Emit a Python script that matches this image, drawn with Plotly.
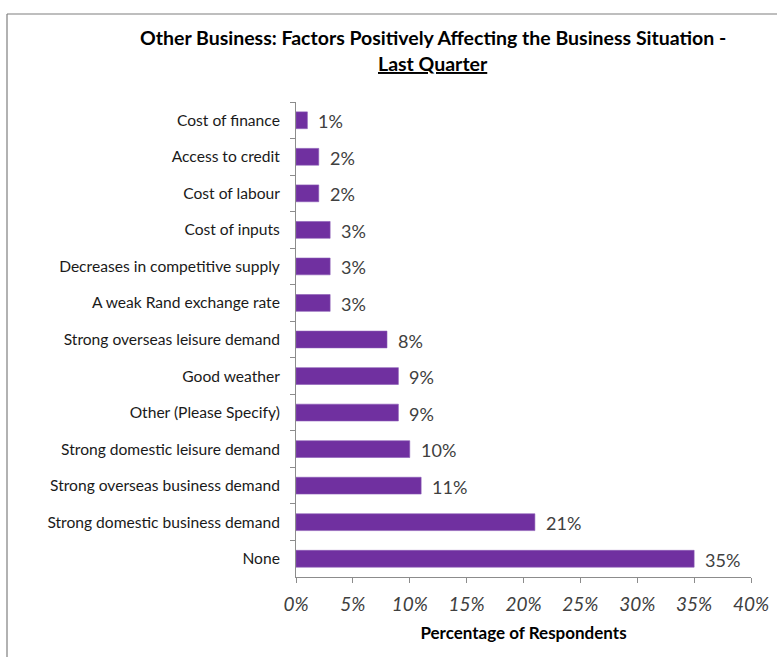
import plotly.graph_objects as go

# Survey results: factors positively affecting the business situation
factors = [
    "Cost of finance",
    "Access to credit",
    "Cost of labour",
    "Cost of inputs",
    "Decreases in competitive supply",
    "A weak Rand exchange rate",
    "Strong overseas leisure demand",
    "Good weather",
    "Other (Please Specify)",
    "Strong domestic leisure demand",
    "Strong overseas business demand",
    "Strong domestic business demand",
    "None",
]
share_pct = [1, 2, 2, 3, 3, 3, 8, 9, 9, 10, 11, 21, 35]
x_ticks = [0, 5, 10, 15, 20, 25, 30, 35, 40]
x_tick_labels = [f"{t}%" for t in x_ticks]

FONT = "Lato"
BAR = "#7030A0"
AXIS = "#8c8c8c"
TEXT = "#404040"

fig = go.Figure()
fig.add_trace(go.Bar(
    x=share_pct,
    y=factors,
    orientation="h",
    marker=dict(color=BAR, line=dict(color="#8a5ab5", width=0.6)),
    width=0.46,
    hoverinfo="x+y",
))

# value labels to the right of each bar
for f, v in zip(factors, share_pct):
    fig.add_annotation(
        x=v, y=f, text=f"{v}%", showarrow=False,
        xanchor="left", xshift=9, yshift=-1,
        font=dict(family=FONT, size=18, color=TEXT),
    )

W, H = 777, 657
L, R, T, B = 296, 26, 102, 80
pw, ph = W - L - R, H - T - B

def px_x(p):
    return (p - L) / pw

def px_y(p):
    return (H - B - p) / ph

# chart frame
fig.add_shape(type="line", xref="paper", yref="paper",
              x0=px_x(7), x1=px_x(780), y0=px_y(14), y1=px_y(14),
              line=dict(color="#7f7f7f", width=1.2))
fig.add_shape(type="line", xref="paper", yref="paper",
              x0=px_x(7), x1=px_x(7), y0=px_y(14), y1=px_y(660),
              line=dict(color="#7f7f7f", width=1.2))

# two-line heading
fig.add_annotation(
    xref="paper", yref="paper", x=px_x(433), y=px_y(38),
    xanchor="center", yanchor="middle", showarrow=False,
    text="<b>Other Business: Factors Positively Affecting the Business Situation -</b>",
    font=dict(family=FONT, size=19.5, color="#000000"),
)
fig.add_annotation(
    xref="paper", yref="paper", x=px_x(433), y=px_y(64),
    xanchor="center", yanchor="middle", showarrow=False,
    text="<b><u>Last Quarter</u></b>",
    font=dict(family=FONT, size=19.5, color="#000000"),
)

fig.update_layout(
    width=W, height=H,
    margin=dict(l=L, r=R, t=T, b=B, autoexpand=False),
    paper_bgcolor="white", plot_bgcolor="white",
    showlegend=False,
    xaxis=dict(
        range=[0, 40], tickvals=x_ticks, ticktext=x_tick_labels,
        showgrid=False, zeroline=False,
        showline=True, linecolor=AXIS, linewidth=1,
        ticks="outside", ticklen=5, tickcolor=AXIS,
        ticklabelstandoff=5,
        tickfont=dict(family=FONT, size=19, color="#404040", style="italic"),
        title=dict(text="<b>Percentage of Respondents</b>", standoff=13,
                   font=dict(family=FONT, size=17, color="#000000")),
    ),
    yaxis=dict(
        autorange="reversed",
        showgrid=False, zeroline=False,
        showline=True, linecolor=AXIS, linewidth=1,
        ticks="outside", ticklen=5, tickcolor=AXIS, tickson="boundaries",
        ticklabelstandoff=12,
        tickfont=dict(family=FONT, size=15.6, color="#1a1a1a"),
    ),
)

fig.write_html("out.html")
